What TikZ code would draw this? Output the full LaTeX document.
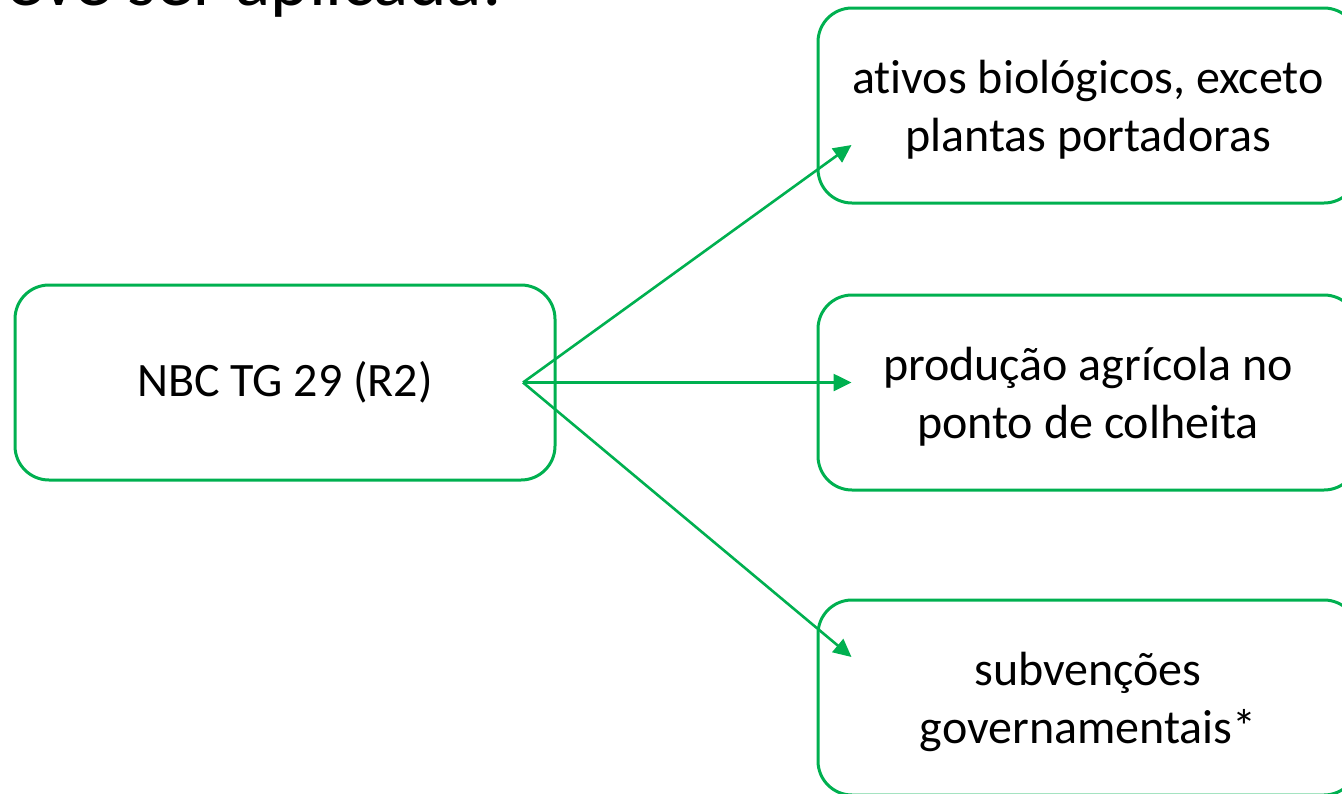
\documentclass[tikz,border=0pt]{standalone}
\usepackage{fontspec}
\setmainfont{Carlito}[Ligatures=NoCommon]
\usetikzlibrary{arrows.meta}
\definecolor{verde}{HTML}{00B050}
\begin{document}
\begin{tikzpicture}[x=1pt,y=-1pt,>={Triangle[length=18pt,width=17pt]},line join=round,
	caixa/.style={draw=verde,line width=3pt,rounded corners=34pt,minimum width=540pt,minimum height=195pt,align=center,inner sep=0pt,font=\fontsize{48}{58}\selectfont},
	alvo/.style={caixa,text depth=0pt},
	seta/.style={->,draw=verde,line width=2.6pt}]
		\path[use as bounding box,clip] (0,0) rectangle (1342,793);
		\node[anchor=base west,inner sep=0pt,font=\fontsize{73.4}{88}\selectfont] (titulo) at (6,5) {eve ser aplicada:};
		\node[caixa] (norma) at (285,382.5) {NBC TG 29 (R2)};
		\node[alvo] (ativos) at (1088,105.5) {ativos biológicos, exceto\\plantas portadoras};
		\node[alvo] (producao) at (1088,392.5) {produção agrícola no\\ponto de colheita};
		\node[alvo] (subvencoes) at (1088,697.5) {subvenções\\governamentais*};
		\coordinate (fan) at (523,382.5);
			\foreach \dest/\dy in {ativos/39.5,producao/-10,subvencoes/-40.5}\draw[seta] (fan)--([shift={(35,\dy)}]\dest.west);
\end{tikzpicture}
\end{document}
